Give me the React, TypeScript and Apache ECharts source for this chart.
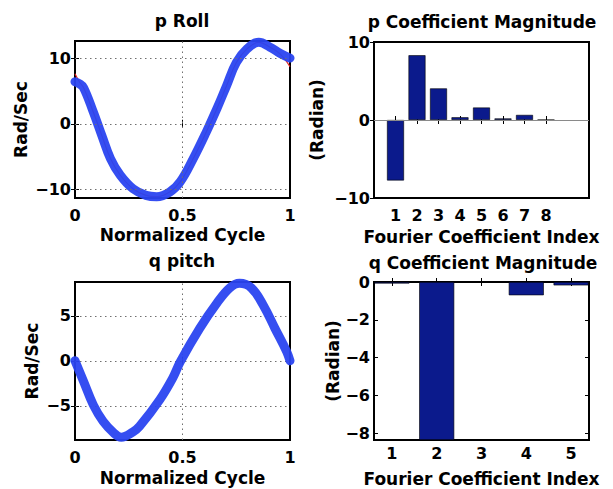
import React, { useEffect, useRef } from "react";
import * as echarts from "echarts";

// ---- data ----
const pT = [0, 0.02, 0.04, 0.085, 0.125, 0.165, 0.21, 0.27, 0.33, 0.38, 0.44, 0.49, 0.55, 0.61, 0.66, 0.705, 0.75, 0.8, 0.855, 0.905, 0.955, 1.0];
const pRoll = [6.4, 6.1, 5.5, 1.8, -1.8, -5.3, -7.8, -9.9, -10.9, -11.1, -10.4, -8.8, -5.3, -1.3, 2.3, 5.8, 9.3, 11.4, 12.4, 11.7, 10.7, 10.0];
const pFit = [7.6, 6.4, 5.5, 1.8, -1.8, -5.3, -7.8, -9.9, -10.9, -11.1, -10.4, -8.8, -5.3, -1.3, 2.3, 5.8, 9.3, 11.4, 12.4, 11.7, 10.6, 8.7];

const qT = [0, 0.04, 0.085, 0.13, 0.18, 0.215, 0.27, 0.3, 0.395, 0.455, 0.49, 0.58, 0.66, 0.72, 0.765, 0.82, 0.875, 0.93, 0.985, 1.0];
const qPitch = [0, -2.3, -4.9, -6.7, -8.0, -8.5, -7.9, -7.3, -4.3, -1.9, -0.1, 3.6, 6.4, 8.1, 8.6, 8.1, 6.2, 3.6, 1.0, 0.0];

const pCoefIndex = [1, 2, 3, 4, 5, 6, 7, 8];
const pCoef = [-7.75, 8.3, 4.05, 0.35, 1.6, 0.2, 0.65, 0.02];
const qCoefIndex = [1, 2, 3, 4, 5];
const qCoef = [-0.08, -8.35, -0.02, -0.7, -0.18];

const cycleTicks = [0, 0.5, 1];
const pRollTicks = [-10, 0, 10];
const qPitchTicks = [-5, 0, 5];
const pCoefYTicks = [-10, 0, 10];
const qCoefYTicks = [0, -2, -4, -6, -8];

const titles = ["p Roll", "p Coefficient Magnitude", "q pitch", "q Coefficient Magnitude"];
const cycleLabel = "Normalized Cycle";
const rateLabel = "Rad/Sec";
const indexLabel = "Fourier Coefficient Index";
const radianLabel = "(Radian)";

// ---- styles ----
const FONT = "DejaVu Sans";
const BLUE = "#2a45f0";
const NAVY = "#0b1a8c";

const fmt = (v: number) => (v < 0 ? "\u2212" + String(Math.abs(v)) : String(v));

const tickStyle = (vals: number[]) => ({
  show: true,
  inside: true,
  length: 4,
  customValues: vals,
  lineStyle: { color: "#000", width: 1 },
});
const labelStyle = {
  color: "#000",
  fontFamily: FONT,
  fontWeight: "bold",
  fontSize: 16,
};
const nameStyle = {
  color: "#000",
  fontFamily: FONT,
  fontWeight: "bold",
  fontSize: 17,
};
const dottedLine = { color: "#6f6f6f", type: [1.5, 3.5], width: 1 };

function xAx(grid: number, min: number, max: number, ticks: number[], opts: any = {}) {
  return {
    gridIndex: grid,
    type: "value",
    position: "bottom",
    min,
    max,
    axisLine: { show: false },
    axisTick: tickStyle(ticks),
    axisLabel: {
      ...labelStyle,
      customValues: ticks,
      formatter: fmt,
      showMinLabel: true,
      showMaxLabel: true,
      margin: opts.margin ?? 9,
    },
    splitLine: { show: false },
    name: opts.name,
    nameLocation: "middle",
    nameGap: opts.nameGap,
    nameTextStyle: nameStyle,
  };
}
function yAx(grid: number, min: number, max: number, ticks: number[], opts: any = {}) {
  return {
    gridIndex: grid,
    type: "value",
    position: "left",
    min,
    max,
    axisLine: { show: false },
    axisTick: tickStyle(ticks),
    axisLabel: {
      ...labelStyle,
      customValues: ticks,
      formatter: fmt,
      showMinLabel: true,
      showMaxLabel: true,
      margin: 4,
    },
    splitLine: { show: false },
    name: opts.name,
    nameLocation: "middle",
    nameGap: opts.nameGap,
    nameRotate: 90,
    nameTextStyle: nameStyle,
  };
}
function mirrorX(grid: number, min: number, max: number, ticks: number[]) {
  return {
    gridIndex: grid,
    type: "value",
    position: "top",
    min,
    max,
    axisLine: { show: false },
    axisTick: tickStyle(ticks),
    axisLabel: { show: false, customValues: ticks },
    splitLine: { show: false },
  };
}
function mirrorY(grid: number, min: number, max: number, ticks: number[]) {
  return {
    gridIndex: grid,
    type: "value",
    position: "right",
    min,
    max,
    axisLine: { show: false },
    axisTick: tickStyle(ticks),
    axisLabel: { show: false, customValues: ticks },
    splitLine: { show: false },
  };
}

// dotted grid lines drawn through the axes' scales
function gridMarks(xVals: number[], yVals: number[]) {
  return {
    silent: true,
    symbol: "none",
    label: { show: false },
    lineStyle: dottedLine,
    data: [
      ...xVals.map((v) => ({ xAxis: v })),
      ...yVals.map((v) => ({ yAxis: v })),
    ],
  };
}

const gridBase = {
  show: true,
  borderColor: "#000",
  borderWidth: 2,
  backgroundColor: "#fff",
  outerBoundsMode: "none",
  containLabel: false,
};

const P_MIN = -11.3, P_MAX = 12.6;
const Q_MIN = -8.8, Q_MAX = 8.75;
const QC_MIN = -8.35, QC_MAX = 0;

const option: any = {
  animation: false,
  backgroundColor: "#fff",
  grid: [
    { ...gridBase, left: 75, top: 41, width: 215, height: 157 },
    { ...gridBase, left: 374, top: 42, width: 215, height: 156 },
    { ...gridBase, left: 75, top: 282, width: 215, height: 158 },
    { ...gridBase, left: 374, top: 282, width: 215, height: 158 },
  ],
  xAxis: [
    xAx(0, 0, 1, cycleTicks, { name: cycleLabel, nameGap: 28 }),
    xAx(1, 0, 10, pCoefIndex, { name: indexLabel, nameGap: 30 }),
    xAx(2, 0, 1, cycleTicks, { name: cycleLabel, nameGap: 29 }),
    xAx(3, 0.6, 5.4, qCoefIndex, { name: indexLabel, nameGap: 30, margin: 5 }),
    mirrorX(0, 0, 1, cycleTicks),
    mirrorX(1, 0, 10, pCoefIndex),
    mirrorX(2, 0, 1, cycleTicks),
    mirrorX(3, 0.6, 5.4, qCoefIndex),
  ],
  yAxis: [
    yAx(0, P_MIN, P_MAX, pRollTicks, { name: rateLabel, nameGap: 46 }),
    yAx(1, -10, 10, pCoefYTicks, { name: radianLabel, nameGap: 49 }),
    yAx(2, Q_MIN, Q_MAX, qPitchTicks, { name: rateLabel, nameGap: 35 }),
    yAx(3, QC_MIN, QC_MAX, qCoefYTicks, { name: radianLabel, nameGap: 33 }),
    mirrorY(0, P_MIN, P_MAX, pRollTicks),
    mirrorY(1, -10, 10, pCoefYTicks),
    mirrorY(2, Q_MIN, Q_MAX, qPitchTicks),
    mirrorY(3, QC_MIN, QC_MAX, qCoefYTicks),
  ],
  series: [
    {
      type: "line",
      xAxisIndex: 0,
      yAxisIndex: 0,
      data: pT.map((t, i) => [t, pFit[i]]),
      smooth: 0.4,
      symbol: "none",
      clip: false,
      z: 2,
      lineStyle: { color: "#e02020", width: 1.2 },
      markLine: gridMarks([0.5], pRollTicks),
    },
    {
      type: "line",
      xAxisIndex: 0,
      yAxisIndex: 0,
      data: pT.map((t, i) => [t, pRoll[i]]),
      smooth: 0.4,
      symbol: "none",
      clip: false,
      z: 3,
      lineStyle: { color: BLUE, width: 9, cap: "round", join: "round", opacity: 0.95 },
    },
    {
      type: "bar",
      xAxisIndex: 1,
      yAxisIndex: 1,
      data: pCoefIndex.map((k, i) => [k, pCoef[i]]),
      barWidth: 17,
      itemStyle: { color: NAVY, borderColor: "#000", borderWidth: 0.6 },
      markLine: {
        silent: true,
        symbol: "none",
        label: { show: false },
        lineStyle: { color: "#8a8a8a", type: "solid", width: 1 },
        data: [{ yAxis: 0 }],
      },
    },
    {
      type: "line",
      xAxisIndex: 2,
      yAxisIndex: 2,
      data: qT.map((t, i) => [t, qPitch[i]]),
      smooth: 0.4,
      symbol: "none",
      clip: false,
      z: 3,
      lineStyle: { color: BLUE, width: 9, cap: "round", join: "round", opacity: 0.95 },
      markLine: { ...gridMarks([0.5], qPitchTicks), z: 1 },
    },
    {
      type: "bar",
      xAxisIndex: 3,
      yAxisIndex: 3,
      data: qCoefIndex.map((k, i) => [k, qCoef[i]]),
      barWidth: 35,
      itemStyle: { color: NAVY, borderColor: "#000", borderWidth: 0.6 },
    },
  ],
  graphic: [
    { type: "text", x: 182, y: 21, style: { text: titles[0], ...nameStyle, fill: "#000", textAlign: "center", textVerticalAlign: "middle" } },
    { type: "text", x: 482, y: 22, style: { text: titles[1], ...nameStyle, fill: "#000", textAlign: "center", textVerticalAlign: "middle" } },
    { type: "text", x: 182, y: 261, style: { text: titles[2], ...nameStyle, fill: "#000", textAlign: "center", textVerticalAlign: "middle" } },
    { type: "text", x: 483, y: 262.5, style: { text: titles[3], ...nameStyle, fill: "#000", textAlign: "center", textVerticalAlign: "middle" } },
  ],
};

export default function App() {
  const ref = useRef<HTMLDivElement>(null);
  useEffect(() => {
    const chart = echarts.init(ref.current!, null, { renderer: "svg" });
    chart.setOption(option);
    return () => chart.dispose();
  }, []);
  return (
    <div
      ref={ref}
      style={{ position: "fixed", left: 0, top: 0, width: 613, height: 489, background: "#fff" }}
    />
  );
}
